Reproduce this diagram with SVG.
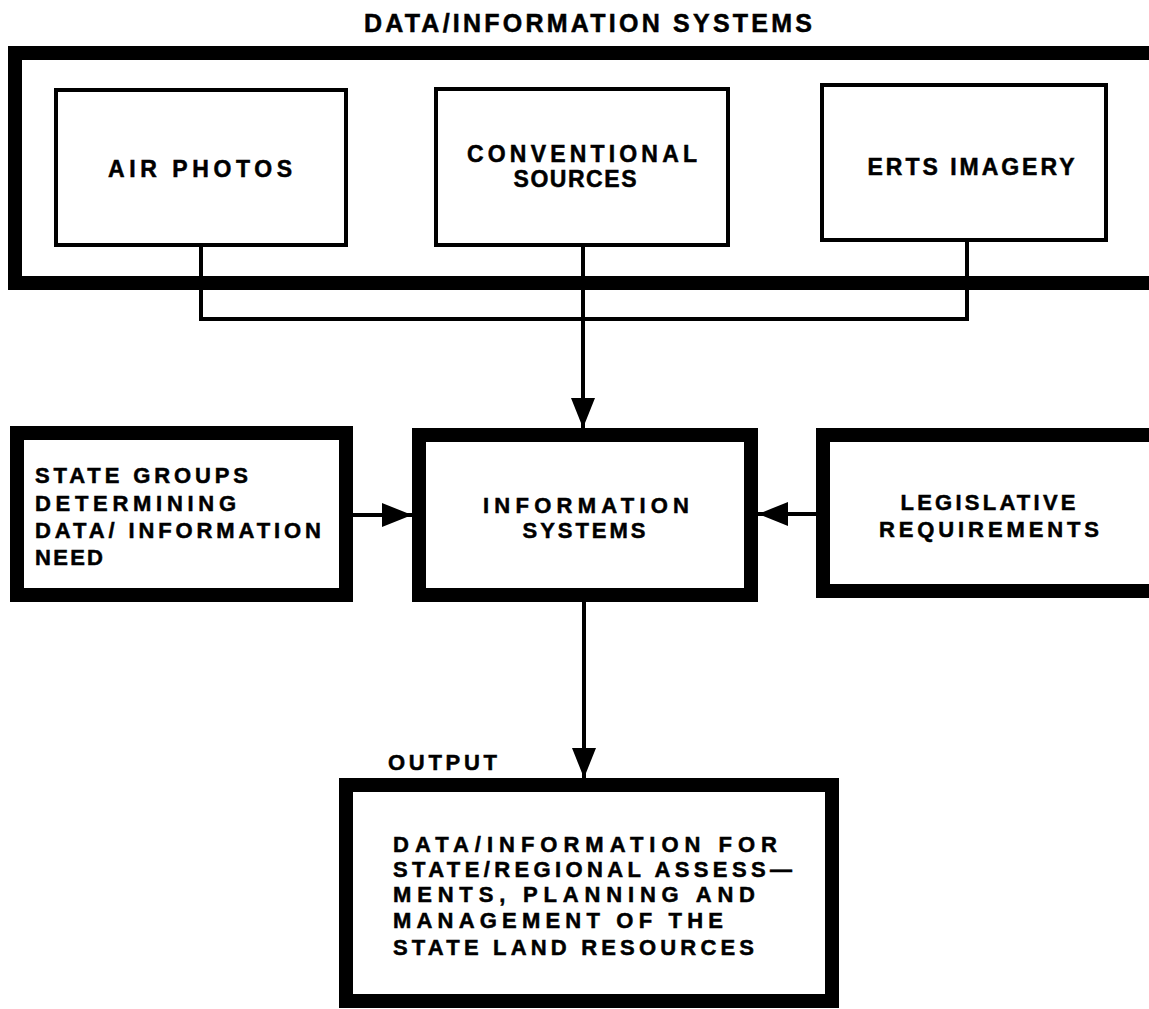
<svg xmlns="http://www.w3.org/2000/svg" width="1149" height="1009" viewBox="0 0 1149 1009">
<style>
  .thick { fill: none; stroke: #000; stroke-width: 14; }
  .thin { fill: none; stroke: #000; stroke-width: 4; }
  .conn { fill: none; stroke: #000; stroke-width: 4; }
  text { font-family: "Liberation Sans", Arial, sans-serif; font-weight: bold; fill: #000; stroke: #000; stroke-width: 0.5; }
  .t23 { font-size: 23px; }
  .t22 { font-size: 22px; }
  .t25 { font-size: 25px; }
  .mid { text-anchor: middle; }
</style>
<defs>
  <marker id="arrow" viewBox="0 0 30 24" refX="30" refY="12" markerWidth="30" markerHeight="24" markerUnits="userSpaceOnUse" orient="auto">
    <path d="M0,0 L30,12 L0,24 Z" fill="#000"/>
  </marker>
</defs>
<rect width="1149" height="1009" fill="#fff"/>

<g id="title">
  <text class="t25 mid" x="588" y="32" textLength="448" lengthAdjust="spacing">DATA/INFORMATION SYSTEMS</text>
</g>

<g id="data-information-systems">
  <rect class="thick" x="15" y="53" width="1150" height="230"/>
</g>

<g id="air-photos">
  <rect class="thin" x="56" y="90" width="290" height="155"/>
  <text class="t23 mid" x="200" y="177" textLength="184" lengthAdjust="spacing">AIR PHOTOS</text>
</g>

<g id="conventional-sources">
  <rect class="thin" x="436" y="89" width="292" height="156"/>
  <text class="t23 mid" x="582" y="162" textLength="230" lengthAdjust="spacing">CONVENTIONAL</text>
  <text class="t23 mid" x="575" y="187" textLength="123" lengthAdjust="spacing">SOURCES</text>
</g>

<g id="erts-imagery">
  <rect class="thin" x="822" y="85" width="284" height="155"/>
  <text class="t23 mid" x="971" y="175" textLength="207" lengthAdjust="spacing">ERTS IMAGERY</text>
</g>

<g id="state-groups">
  <rect class="thick" x="17" y="433" width="329" height="162"/>
  <text class="t22" x="35" y="483" textLength="213" lengthAdjust="spacing">STATE GROUPS</text>
  <text class="t22" x="35" y="511" textLength="201" lengthAdjust="spacing">DETERMINING</text>
  <text class="t22" x="35" y="538" textLength="286" lengthAdjust="spacing">DATA/ INFORMATION</text>
  <text class="t22" x="35" y="565" textLength="68" lengthAdjust="spacing">NEED</text>
</g>

<g id="information-systems">
  <rect class="thick" x="419" y="435" width="332" height="160"/>
  <text class="t22 mid" x="586" y="513" textLength="206" lengthAdjust="spacing">INFORMATION</text>
  <text class="t22 mid" x="584" y="538" textLength="123" lengthAdjust="spacing">SYSTEMS</text>
</g>

<g id="legislative-requirements">
  <rect class="thick" x="823" y="435" width="340" height="156"/>
  <text class="t22 mid" x="988" y="510" textLength="175" lengthAdjust="spacing">LEGISLATIVE</text>
  <text class="t22 mid" x="989" y="537" textLength="220" lengthAdjust="spacing">REQUIREMENTS</text>
</g>

<g id="output">
  <text class="t22" x="388" y="770" textLength="109" lengthAdjust="spacing">OUTPUT</text>
  <rect class="thick" x="346" y="785" width="486" height="216"/>
  <text class="t22" x="393" y="852" textLength="384" lengthAdjust="spacing">DATA/INFORMATION FOR</text>
  <text class="t22" x="393" y="877" textLength="399" lengthAdjust="spacing">STATE/REGIONAL ASSESS—</text>
  <text class="t22" x="393" y="902" textLength="362" lengthAdjust="spacing">MENTS, PLANNING AND</text>
  <text class="t22" x="393" y="928" textLength="330" lengthAdjust="spacing">MANAGEMENT OF THE</text>
  <text class="t22" x="393" y="955" textLength="361" lengthAdjust="spacing">STATE LAND RESOURCES</text>
</g>

<g id="connectors">
  <path class="conn" d="M201,247 V319 H967 V242"/>
  <path class="conn" d="M583,247 V428" marker-end="url(#arrow)"/>
  <path class="conn" d="M353,515 H412" marker-end="url(#arrow)"/>
  <path class="conn" d="M816,514 H758" marker-end="url(#arrow)"/>
  <path class="conn" d="M584,602 V778" marker-end="url(#arrow)"/>
</g>
</svg>
